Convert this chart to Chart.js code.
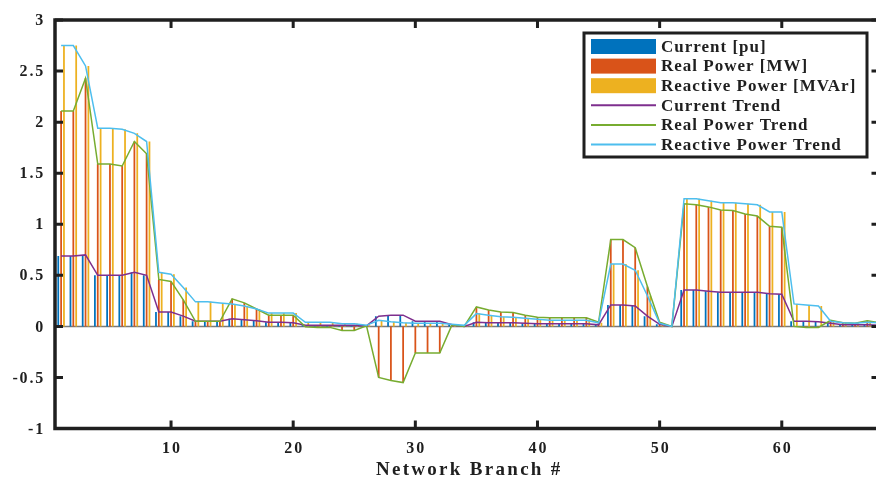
<!DOCTYPE html>
<html>
<head>
<meta charset="utf-8">
<script src="https://cdn.jsdelivr.net/npm/chart.js@4.4.1/dist/chart.umd.min.js"></script>
<style>
  html, body { margin: 0; background: #fff; overflow: hidden; width: 876px; height: 480px; }
  #wrap { position: relative; width: 882px; height: 480px; }
</style>
</head>
<body>
<div id="wrap"><canvas id="chart" width="882" height="480"></canvas></div>
<script>
/* Branch loading profile: grouped bars per branch plus a trend line through each series. */
const branches = [1, 2, 3, 4, 5, 6, 7, 8, 9, 10, 11, 12, 13, 14, 15, 16, 17, 18, 19, 20,
  21, 22, 23, 24, 25, 26, 27, 28, 29, 30, 31, 32, 33, 34, 35, 36, 37, 38, 39, 40,
  41, 42, 43, 44, 45, 46, 47, 48, 49, 50, 51, 52, 53, 54, 55, 56, 57, 58, 59, 60,
  61, 62, 63, 64, 65, 66, 67, 68];

const current = [0.69, 0.69, 0.70, 0.50, 0.50, 0.50, 0.53, 0.50, 0.14, 0.14,
  0.10, 0.05, 0.05, 0.05, 0.075, 0.065, 0.055, 0.04, 0.04, 0.035,
  0.01, 0.01, 0.01, 0.01, 0.01, 0.005, 0.10, 0.11, 0.11, 0.05,
  0.05, 0.05, 0.015, 0.0, 0.04, 0.035, 0.035, 0.035, 0.03, 0.025,
  0.025, 0.025, 0.025, 0.025, 0.015, 0.21, 0.21, 0.20, 0.10, 0.02,
  0.0, 0.355, 0.355, 0.345, 0.335, 0.335, 0.335, 0.335, 0.32, 0.315,
  0.05, 0.05, 0.045, 0.03, 0.015, 0.015, 0.015, 0.01];

const realPower = [2.11, 2.11, 2.43, 1.59, 1.59, 1.57, 1.81, 1.69, 0.46, 0.44,
  0.26, 0.05, 0.05, 0.05, 0.27, 0.23, 0.17, 0.11, 0.11, 0.11,
  -0.005, -0.01, -0.01, -0.04, -0.04, 0.005, -0.50, -0.53, -0.55, -0.26,
  -0.26, -0.26, 0.015, 0.0, 0.19, 0.16, 0.14, 0.135, 0.11, 0.09,
  0.085, 0.085, 0.085, 0.085, 0.04, 0.85, 0.85, 0.77, 0.39, 0.04,
  0.0, 1.20, 1.19, 1.17, 1.14, 1.135, 1.10, 1.08, 0.98, 0.97,
  0.0, -0.01, -0.01, 0.06, 0.035, 0.03, 0.055, 0.035];

const reactivePower = [2.75, 2.75, 2.55, 1.94, 1.94, 1.93, 1.89, 1.81, 0.53, 0.51,
  0.38, 0.24, 0.24, 0.23, 0.22, 0.20, 0.17, 0.13, 0.13, 0.13,
  0.04, 0.04, 0.04, 0.025, 0.025, 0.01, 0.06, 0.045, 0.035, 0.03,
  0.03, 0.03, 0.02, 0.01, 0.125, 0.11, 0.095, 0.09, 0.08, 0.07,
  0.06, 0.06, 0.06, 0.06, 0.035, 0.61, 0.61, 0.55, 0.30, 0.03,
  0.0, 1.25, 1.25, 1.23, 1.21, 1.21, 1.20, 1.19, 1.12, 1.12,
  0.22, 0.21, 0.20, 0.05, 0.035, 0.03, 0.04, 0.035];

const yTicks = [-1, -0.5, 0, 0.5, 1, 1.5, 2, 2.5, 3];
const xTicks = [10, 20, 30, 40, 50, 60];
const xTitle = "Network Branch #";

(function () {
  const C = { blue: "#0072BD", red: "#D95319", yellow: "#EDB120", purple: "#7E2F8E", green: "#77AC30", cyan: "#4DBEEE", ink: "#1f1f1f" };
  const SERIF = "'Liberation Serif', 'Times New Roman', serif";

  const bar = (label, data, color) => ({ label, data, backgroundColor: color, borderWidth: 0, order: 3,
    categoryPercentage: 0.7, barPercentage: 0.62 });
  const trend = (label, data, color, order) => ({ type: "line", label, data, borderColor: color, backgroundColor: color,
    borderWidth: 1.5, pointRadius: 0, tension: 0, fill: false, order });

  // axes box, inward ticks, labels and the boxed legend are drawn by hand
  const frame = {
    id: "frame",
    beforeDatasetsDraw(chart) {
      const { ctx, chartArea: a, scales: { y } } = chart;
      ctx.save();
      ctx.strokeStyle = "#7a7a7a"; ctx.lineWidth = 1.5;
      const y0 = y.getPixelForValue(0);
      ctx.beginPath(); ctx.moveTo(a.left, y0); ctx.lineTo(a.right, y0); ctx.stroke();
      ctx.restore();
    },
    afterDraw(chart) {
      const { ctx, chartArea: a, scales: { x, y } } = chart;
      ctx.save();
      ctx.strokeStyle = C.ink; ctx.fillStyle = C.ink;
      ctx.lineWidth = 3.5;
      ctx.strokeRect(a.left, a.top, a.right - a.left, a.bottom - a.top);

      ctx.lineWidth = 3;
      const tk = 8;
      yTicks.forEach((v) => {
        const py = y.getPixelForValue(v);
        ctx.beginPath(); ctx.moveTo(a.left, py); ctx.lineTo(a.left + tk, py);
        ctx.moveTo(a.right, py); ctx.lineTo(a.right - tk, py); ctx.stroke();
      });
      xTicks.forEach((v) => {
        const px = x.getPixelForValue(v);
        ctx.beginPath(); ctx.moveTo(px, a.bottom); ctx.lineTo(px, a.bottom - tk);
        ctx.moveTo(px, a.top); ctx.lineTo(px, a.top + tk); ctx.stroke();
      });

      ctx.font = `bold 16px ${SERIF}`;
      ctx.letterSpacing = "1.8px";
      ctx.textBaseline = "middle";
      ctx.textAlign = "right";
      yTicks.forEach((v) => ctx.fillText(String(v), a.left - 10, y.getPixelForValue(v) + 1));
      ctx.textAlign = "center";
      ctx.letterSpacing = "2px";
      xTicks.forEach((v) => ctx.fillText(String(v), x.getPixelForValue(v) + 1, a.bottom + 20));

      ctx.font = `bold 19px ${SERIF}`;
      ctx.letterSpacing = "2.3px";
      ctx.fillText(xTitle, (a.left + a.right) / 2 + 2, a.bottom + 42);

      // legend
      const L = { x: 584, y: 33, w: 283, h: 124, row: 19.6 };
      ctx.fillStyle = "#fff";
      ctx.fillRect(L.x, L.y, L.w, L.h);
      ctx.lineWidth = 3;
      ctx.strokeRect(L.x, L.y, L.w, L.h);
      ctx.font = `bold 17px ${SERIF}`;
      ctx.letterSpacing = "1px";
      ctx.textAlign = "left";
      chart.data.datasets.forEach((ds, i) => {
        const cy = L.y + 13.5 + i * L.row;
        if (ds.type === "line") {
          ctx.strokeStyle = ds.borderColor; ctx.lineWidth = 2;
          ctx.beginPath(); ctx.moveTo(591, cy); ctx.lineTo(656, cy); ctx.stroke();
        } else {
          ctx.fillStyle = ds.backgroundColor;
          ctx.fillRect(591, cy - 7.5, 65, 15);
        }
        ctx.fillStyle = C.ink;
        ctx.fillText(ds.label, 661, cy + 1);
      });
      ctx.restore();
    }
  };

  new Chart(document.getElementById("chart"), {
    type: "bar",
    data: {
      labels: branches,
      datasets: [
        bar("Current [pu]", current, C.blue),
        bar("Real Power [MW]", realPower, C.red),
        bar("Reactive Power [MVAr]", reactivePower, C.yellow),
        trend("Current Trend", current, C.purple, 2),
        trend("Real Power Trend", realPower, C.green, 1),
        trend("Reactive Power Trend", reactivePower, C.cyan, 0)
      ]
    },
    options: {
      responsive: false, animation: false,
      layout: { padding: { left: 55, top: 20, right: 2.5, bottom: 51.5 } },
      plugins: { legend: { display: false }, tooltip: { enabled: false } },
      scales: {
        x: { type: "linear", min: 0.5, max: 68, offset: false, display: false },
        y: { min: -1, max: 3, display: false }
      }
    },
    plugins: [frame]
  });
})();
</script>
</body>
</html>
